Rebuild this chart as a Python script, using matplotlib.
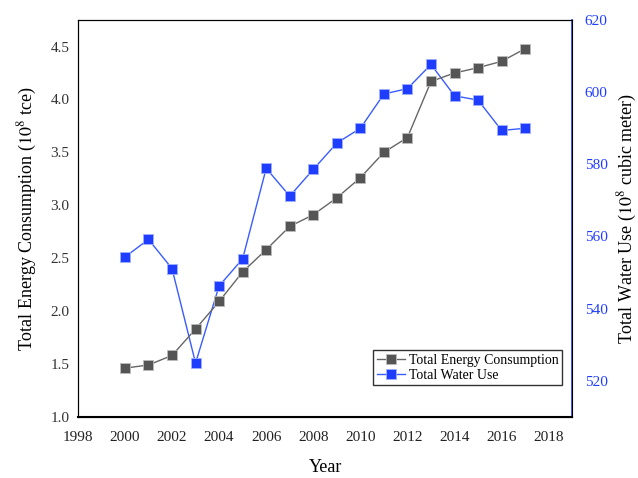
import matplotlib
matplotlib.use("Agg")
import matplotlib.pyplot as plt

years = list(range(2000, 2018))
energy = [1.46, 1.49, 1.58, 1.83, 2.09, 2.37, 2.58, 2.80, 2.91, 3.07, 3.26, 3.50, 3.64, 4.17, 4.25, 4.30, 4.36, 4.48]
water = [554.3, 559.2, 551.1, 524.9, 546.3, 553.8, 578.9, 571.2, 578.6, 585.9, 590.0, 599.5, 601.0, 607.7, 599.0, 597.8, 589.4, 590.0]
xticks = list(range(1998, 2019, 2))
left_ticks = [1.0, 1.5, 2.0, 2.5, 3.0, 3.5, 4.0, 4.5]
right_ticks = [520, 540, 560, 580, 600, 620]

plt.rcParams['font.family'] = ['Liberation Serif', 'DejaVu Serif']
plt.rcParams['mathtext.fontset'] = 'stix'

fig = plt.figure(figsize=(6.38, 4.78), dpi=100)
ax = fig.add_axes([0.122, 0.128, 0.775, 0.830])
ax2 = ax.twinx()

blue = '#1f3dff'
l1, = ax.plot(years, energy, color='#666666', lw=1.0, marker='s', markersize=7,
              markerfacecolor='#555555', markeredgecolor='#bbbbbb', markeredgewidth=0.6,
              label='Total Energy Consumption')
l2, = ax2.plot(years, water, color='#3a5cff', lw=1.0, marker='s', markersize=7,
               markerfacecolor=blue, markeredgecolor='#a0b0ff', markeredgewidth=0.6,
               label='Total Water Use')

ax.set_xlim(1998, 2019)
ax.set_ylim(1.0, 4.75)
ax2.set_ylim(510, 620)
ax.set_xticks(xticks)
ax.set_yticks(left_ticks)
ax2.set_yticks(right_ticks)
ax.set_yticklabels([f"{v:.1f}" for v in left_ticks])

ax.tick_params(axis='both', length=0, labelsize=11, colors='#333333', pad=6)
ax.tick_params(axis='x', colors='#222222', pad=10)
ax2.tick_params(axis='y', length=0, labelsize=11, colors=blue, pad=9)

for s in ['left', 'top', 'bottom']:
    ax2.spines[s].set_color('black')
ax2.spines['right'].set_color(blue)
ax2.spines['right'].set_linewidth(1.2)
ax2.spines['bottom'].set_linewidth(1.5)

ax.set_xlabel('Year', fontsize=13, labelpad=11)
ax.set_ylabel(r'Total Energy Consumption ($10^8$ tce)', fontsize=13, labelpad=8)
ax2.set_ylabel(r'Total Water Use ($10^8$ cubic meter)', fontsize=13, labelpad=6)

leg = ax.legend(handles=[l1, l2], loc='lower right', bbox_to_anchor=(0.985, 0.072),
                fontsize=10, frameon=True, fancybox=False, borderpad=0.25,
                handlelength=2.0, handletextpad=0.3, labelspacing=0.15,
                borderaxespad=0.2)
leg.get_frame().set_edgecolor('black')
leg.get_frame().set_linewidth(1.0)
leg.set_zorder(10)
ax.set_zorder(ax2.get_zorder() + 1)
ax.patch.set_visible(False)

fig.savefig('out.png', dpi=100)
